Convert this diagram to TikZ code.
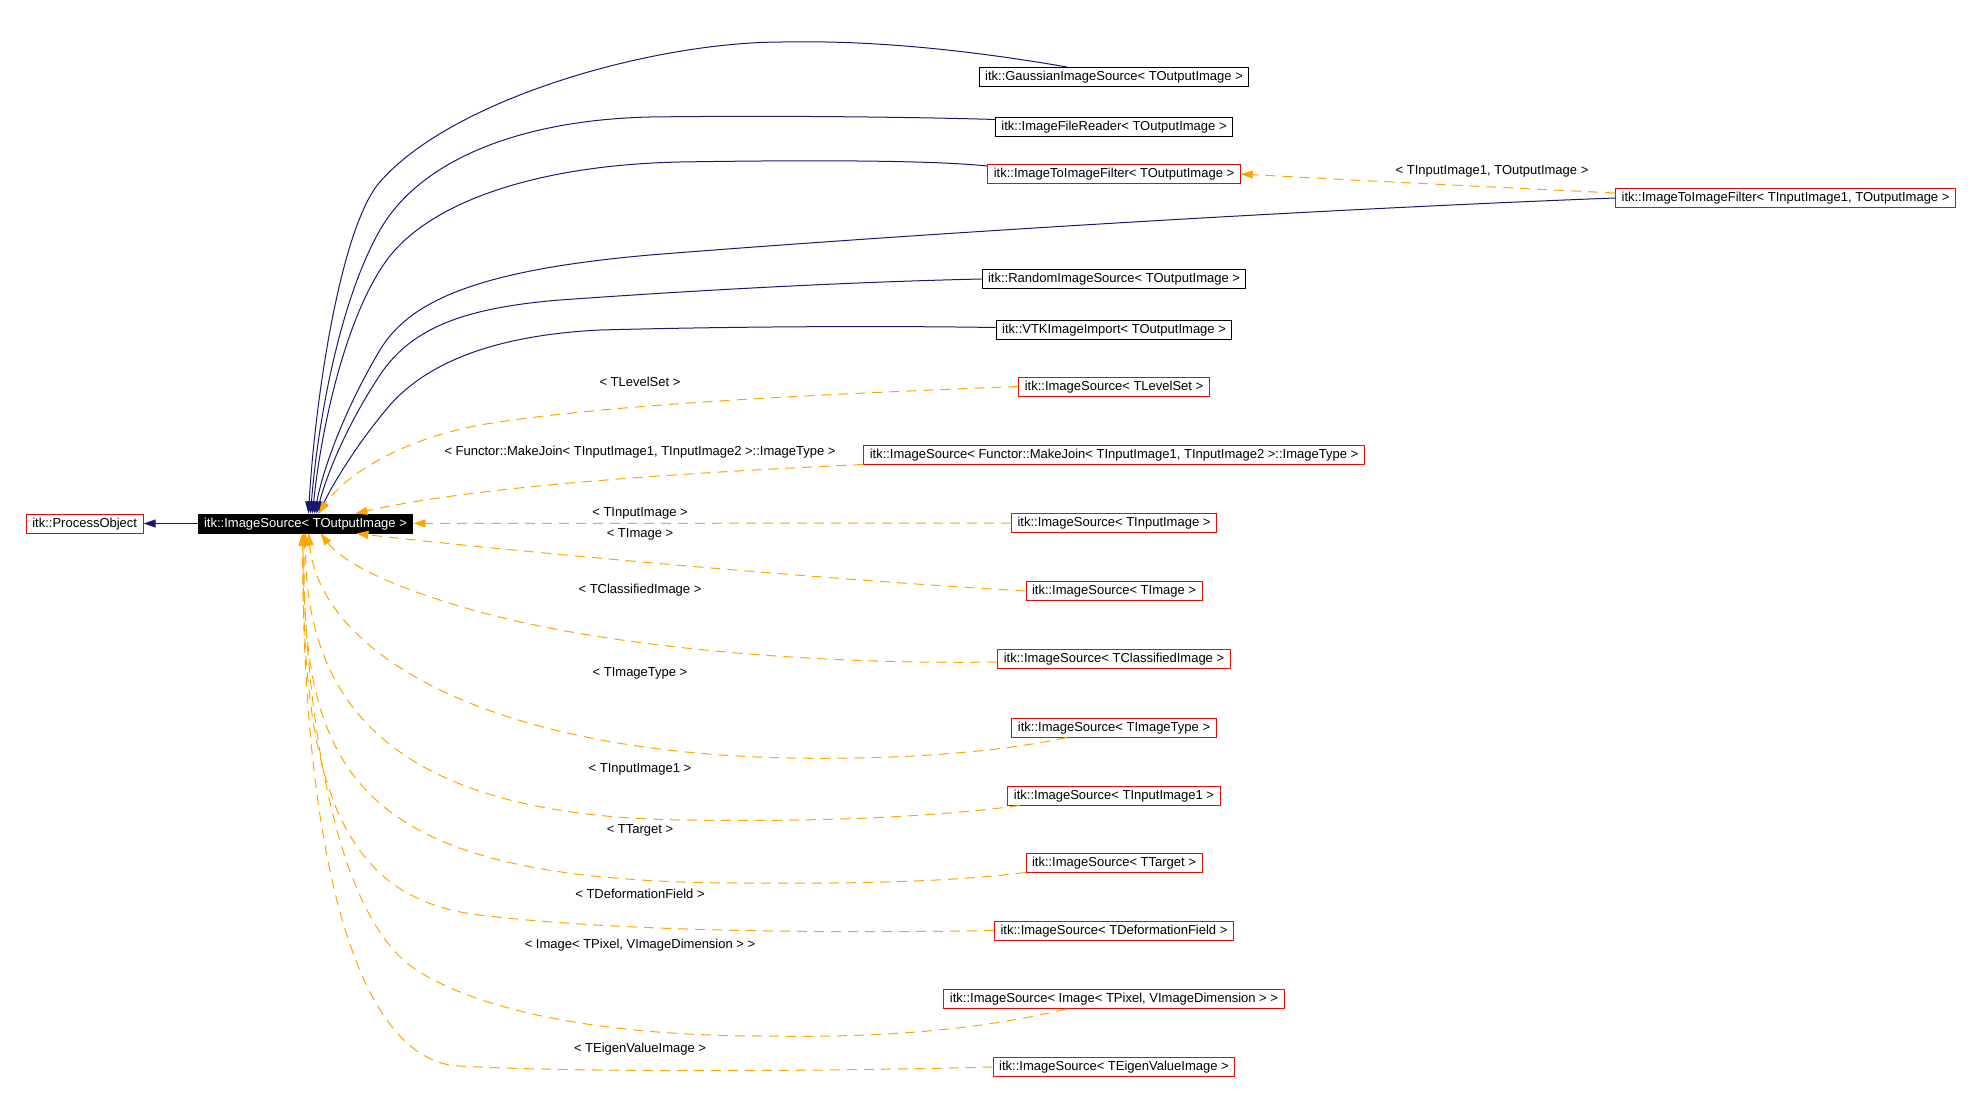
\documentclass[tikz,border=0pt]{standalone}
\usepackage{fontspec}
\setmainfont{Liberation Sans}
\usepackage{xcolor}
\usepackage{tikz}
\usetikzlibrary{arrows.meta,positioning}
\definecolor{edgeblue}{HTML}{191970}
\definecolor{edgeorange}{HTML}{FFA500}

\begin{document}
\begin{tikzpicture}[
    x=1pt, y=-1pt,
    node distance=54pt,
    nodebox/.style={line width=1pt, inner xsep=6pt, inner ysep=3pt, text height=10pt, text depth=3pt, font=\fontsize{13}{15}\selectfont},
    cls/.style={nodebox, draw=black},
    tmpl/.style={nodebox, draw=red},
    cur/.style={nodebox, draw=black, fill=black, text=white},
    lbl/.style={inner sep=0pt, font=\fontsize{13}{15}\selectfont},
    inh/.style={-{Triangle[length=12pt,width=8pt]}, draw=edgeblue, line width=1pt},
    inst/.style={-{Triangle[length=12pt,width=8pt]}, draw=edgeorange, line width=1pt, dash pattern=on 10pt off 7pt}
]
  \useasboundingbox (0,0) rectangle (1980,1094);

  \node[cur] (src) at (305.5,523.5) {itk::ImageSource< TOutputImage >};
  \node[tmpl, left=of src] (po) {itk::ProcessObject};

  \node[cls] (gauss) at (1114,77) {itk::GaussianImageSource< TOutputImage >};
  \node[cls] (reader) at (1114,127.5) {itk::ImageFileReader< TOutputImage >};
  \node[tmpl] (filt) at (1114,174) {itk::ImageToImageFilter< TOutputImage >};
  \node[tmpl] (filt2) at (1785.5,198) {itk::ImageToImageFilter< TInputImage1, TOutputImage >};
  \node[cls] (rand) at (1114,279) {itk::RandomImageSource< TOutputImage >};
  \node[cls] (vtk) at (1114,329.5) {itk::VTKImageImport< TOutputImage >};
  \node[tmpl] (levelset) at (1114,386.5) {itk::ImageSource< TLevelSet >};
  \node[tmpl] (join) at (1114,454.5) {itk::ImageSource< Functor::MakeJoin< TInputImage1, TInputImage2 >::ImageType >};
  \node[tmpl] (inimg) at (1114,523) {itk::ImageSource< TInputImage >};
  \node[tmpl] (img) at (1114,591) {itk::ImageSource< TImage >};
  \node[tmpl] (classified) at (1114,659) {itk::ImageSource< TClassifiedImage >};
  \node[tmpl] (imgtype) at (1114,727.5) {itk::ImageSource< TImageType >};
  \node[tmpl] (in1) at (1114,795.5) {itk::ImageSource< TInputImage1 >};
  \node[tmpl] (target) at (1114,862.5) {itk::ImageSource< TTarget >};
  \node[tmpl] (deform) at (1114,930.5) {itk::ImageSource< TDeformationField >};
  \node[tmpl] (pixel) at (1114,999) {itk::ImageSource< Image< TPixel, VImageDimension > >};
  \node[tmpl] (eigen) at (1114,1067) {itk::ImageSource< TEigenValueImage >};

  \node[lbl] (t-filt2) at (1492,171) {< TInputImage1, TOutputImage >};
  \node[lbl] (t-levelset) at (640,381.5) {< TLevelSet >};
  \node[lbl] (t-join) at (640,452) {< Functor::MakeJoin< TInputImage1, TInputImage2 >::ImageType >};
  \node[lbl] (t-inimg) at (640,513) {< TInputImage >};
  \node[lbl] (t-img) at (640,534) {< TImage >};
  \node[lbl] (t-classified) at (640,590) {< TClassifiedImage >};
  \node[lbl] (t-imgtype) at (640,673) {< TImageType >};
  \node[lbl] (t-in1) at (640,769) {< TInputImage1 >};
  \node[lbl] (t-target) at (640,830) {< TTarget >};
  \node[lbl] (t-deform) at (640,894) {< TDeformationField >};
  \node[lbl] (t-pixel) at (640,945) {< Image< TPixel, VImageDimension > >};
  \node[lbl] (t-eigen) at (640,1049.5) {< TEigenValueImage >};

  \draw[inh] (src) -- (po);
  \draw[inh] ([xshift=-47pt]gauss.north) .. controls (980,52) and (880,40) .. (783,42)
    .. controls (650,42) and (450,100) .. (379,183)
    .. controls (340,230) and (315,400) .. ([xshift=3pt]src.north);
  \draw[inh] ([yshift=-2pt]reader.north west) .. controls (950,118) and (800,115) .. (650,117)
    .. controls (520,120) and (420,160) .. (380,230)
    .. controls (340,300) and (318,420) .. ([xshift=5pt]src.north);
  \draw[inh] ([yshift=-2pt]filt.north west) .. controls (930,160) and (800,160) .. (680,162)
    .. controls (540,165) and (440,200) .. (395,250)
    .. controls (350,300) and (322,420) .. ([xshift=7pt]src.north);
  \draw[inh] (filt2.west) .. controls (1300,210) and (900,235) .. (650,255)
    .. controls (480,270) and (410,300) .. (380,350)
    .. controls (350,400) and (325,460) .. ([xshift=9pt]src.north);
  \draw[inh] (rand.west) .. controls (850,282) and (700,290) .. (560,300)
    .. controls (460,308) and (410,330) .. (380,375)
    .. controls (350,420) and (328,470) .. ([xshift=11pt]src.north);
  \draw[inh] ([yshift=2pt]vtk.west) .. controls (900,326) and (750,326) .. (600,330)
    .. controls (500,335) and (430,360) .. (390,405)
    .. controls (360,440) and (335,480) .. ([xshift=13pt]src.north);

  \draw[inst] ([yshift=5pt]filt2.west) .. controls (1450,185) and (1350,180) .. (filt.east);
  \draw[inst] (levelset.west) .. controls (800,395) and (600,405) .. (480,425)
    .. controls (400,440) and (345,475) .. ([xshift=13pt]src.north);
  \draw[inst] (join.south west) .. controls (700,472) and (480,485) .. ([xshift=50pt]src.north);
  \draw[inst] (inimg) -- (src);
  \draw[inst] (img.west) .. controls (800,578) and (500,550) .. ([xshift=51pt]src.south);
  \draw[inst] ([yshift=-3pt]classified.west) .. controls (800,665) and (600,645) .. (480,612)
    .. controls (400,590) and (345,565) .. ([xshift=15pt]src.south);
  \draw[inst] ([xshift=-47pt]imgtype.south) .. controls (1000,752) and (900,760) .. (790,758)
    .. controls (480,752) and (320,650) .. ([xshift=3pt]src.south);
  \draw[inst] ([xshift=12pt]in1.south west) .. controls (930,818) and (800,822) .. (690,820)
    .. controls (400,818) and (305,710) .. (src.south);
  \draw[inst] (target.south west) .. controls (950,882) and (850,884) .. (740,883)
    .. controls (360,882) and (300,780) .. ([xshift=-1pt]src.south);
  \draw[inst] (deform.west) .. controls (800,934) and (600,930) .. (480,915)
    .. controls (350,900) and (300,800) .. ([xshift=-2pt]src.south);
  \draw[inst] ([xshift=-48pt]pixel.south) .. controls (980,1030) and (880,1038) .. (765,1036)
    .. controls (600,1036) and (470,1010) .. (408,964)
    .. controls (330,900) and (305,700) .. ([xshift=-3pt]src.south);
  \draw[inst] (eigen.west) .. controls (800,1072) and (560,1072) .. (459,1066)
    .. controls (370,1062) and (303,900) .. ([xshift=-3pt]src.south);
\end{tikzpicture}
\end{document}
